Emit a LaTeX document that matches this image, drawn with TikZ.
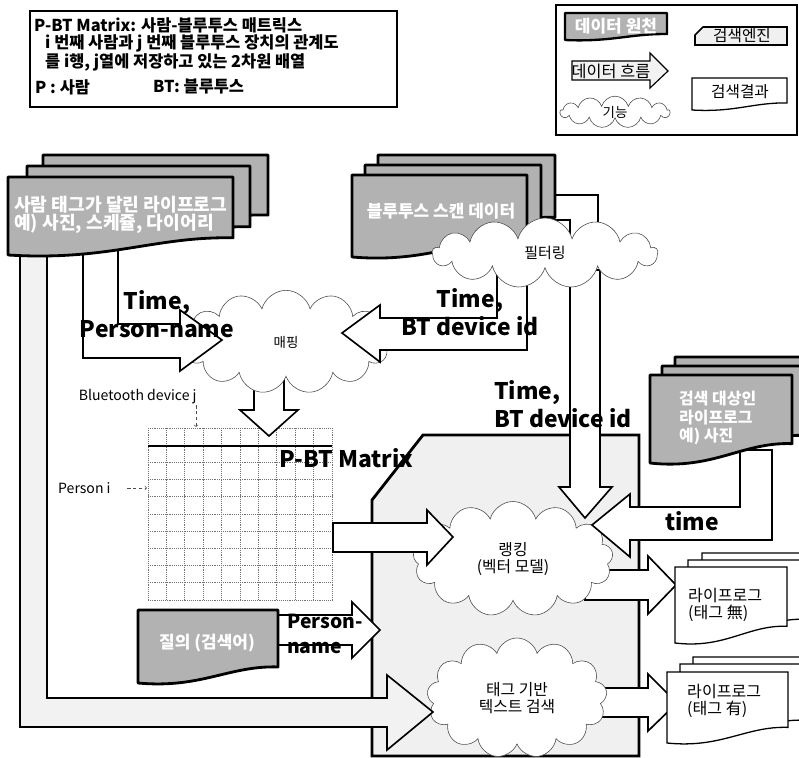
\documentclass[tikz,border=0pt]{standalone}
\usepackage{fontspec}
\setmainfont{Noto Sans CJK KR}
\usepackage{tikz}
\usetikzlibrary{shapes.symbols}

% document outline with wavy bottom: x1, y1, x2, y2 (y grows downwards)
\newcommand{\docpath}[4]{(#1,#2) -- (#3,#2) -- (#3,{#4-0.22*(#4-#2)}) .. controls ({#3-0.35*(#3-#1)},{#4-0.24*(#4-#2)}) and ({#1+0.45*(#3-#1)},{#4+0.08*(#4-#2)}) .. (#1,#4) -- cycle}

\begin{document}
\begin{tikzpicture}[
        x=0.03cm, y=-0.03cm,
        srcdoc/.style={draw=black, line width=2.4pt, fill=gray!60, line join=round},
        resdoc/.style={draw=black, line width=1.1pt, fill=white},
        flow/.style={draw=black, line width=1.4pt, fill=white, line join=miter},
        lightflow/.style={flow, fill=gray!10},
        engine/.style={draw=black, line width=2.4pt, fill=gray!12},
        func/.style={cloud, cloud puffs=13, cloud ignores aspect, draw=black!70, line width=0.5pt, fill=white, inner sep=0pt, align=center, font=\fontsize{13.5}{15}\selectfont},
        srctext/.style={text=white, align=left, inner sep=0pt, font=\bfseries\fontsize{14.5}{15.5}\selectfont},
        restext/.style={align=left, anchor=west, inner sep=0pt, font=\fontsize{13.7}{14.5}\selectfont},
        biglab/.style={align=center, inner sep=0pt, font=\bfseries\fontsize{19.5}{24}\selectfont},
        smalllab/.style={inner sep=1pt, font=\fontsize{12}{14}\selectfont},
        legendbox/.style={draw=black, line width=1.4pt},
        legtext/.style={anchor=west, inner sep=0pt, font=\bfseries\fontsize{14}{16}\selectfont},
        gridline/.style={black!55, densely dotted, line width=0.6pt},
        pointer/.style={->, densely dashed, black!70, line width=0.5pt}
      ]
      \useasboundingbox (0,0) rectangle (799,758);

      % Legend (left) - P-BT Matrix
      \draw[legendbox] (30,11) rectangle (397,107);
      \node[legtext] (lgtitle) at (34,25) {P-BT Matrix: 사람-블루투스 매트릭스};
      \node[legtext] (lgline2) at (45,43) {i 번째 사람과 j 번째 블루투스 장치의 관계도};
      \node[legtext] (lgline3) at (45,62) {를 i행, j열에 저장하고 있는 2차원 배열};
      \node[legtext] (lgp) at (35,87) {P : 사람};
      \node[legtext] (lgbt) at (153,87) {BT: 블루투스};

      % Legend (right) - shapes
      \draw[legendbox] (556,5) rectangle (797,135);
      \draw[srcdoc, line width=2pt] \docpath{565}{13}{667}{40};
      \node[srctext, font=\bfseries\fontsize{14.5}{15}\selectfont] (lgsrc) at (616,26) {데이터 원천};
      \draw[engine, line width=1.4pt] (695,35) -- (703,27) -- (787,27) -- (787,45) -- (695,45) -- cycle;
      \node[font=\fontsize{13.4}{15}\selectfont, inner sep=0pt] (lgeng) at (742,36) {검색엔진};
      \draw[lightflow, line width=1pt] (572,61) -- (650,61) -- (650,53) -- (668,71) -- (650,88) -- (650,80) -- (572,80) -- cycle;
      \node[font=\fontsize{13.9}{15}\selectfont, inner sep=0pt] (lgflow) at (611,71) {데이터 흐름};
      \draw[resdoc] \docpath{692}{78}{787}{110};
      \node[font=\fontsize{13.4}{15}\selectfont, inner sep=0pt] (lgres) at (740,92) {검색결과};
      \node[func, minimum width=3.3cm, minimum height=0.95cm, font=\fontsize{11.5}{12}\selectfont] (lgfunc) at (615,112) {기능};

      % Search engine region
      \draw[engine] (372,500) -- (423,435) -- (639,435) -- (639,756) -- (372,756) -- cycle;

      % P-BT Matrix grid
      \foreach \i in {0,...,10} {
        \draw[gridline] ({148+18.4*\i},428) -- ({148+18.4*\i},600);
        \draw[gridline] (148,{428+17.2*\i}) -- (332,{428+17.2*\i});
      }
      \draw[line width=2.4pt] (148,446) -- (332,446);
      \node[biglab, anchor=west] (matrix) at (279,458) {P-BT Matrix};
      \node[smalllab, anchor=south east] (btdevj) at (198,405) {Bluetooth device j};
      \coordinate (colj) at (196,427);
      \draw[pointer] (btdevj.south east) ++(-2,0) -- (colj);
      \node[smalllab, anchor=east] (personi) at (112,488) {Person i};
      \coordinate (rowi) at (147,488);
      \draw[pointer, shorten <=0.45cm] (personi.east) -- (rowi);

      % Arrows that start under the clouds
      \draw[flow] (254,370) -- (254,410) -- (240,410) -- (269,436) -- (298,410) -- (284,410) -- (284,370) -- cycle;
      \draw[flow] (585,570) -- (648,570) -- (648,556) -- (676,585) -- (648,614) -- (648,600) -- (585,600) -- cycle;
      \draw[flow] (585,688) -- (648,688) -- (648,674) -- (677,703) -- (648,731) -- (648,717) -- (585,717) -- cycle;

      % Functions
      \node[func, minimum width=6.24cm, minimum height=3.1cm, font=\fontsize{11.5}{13}\selectfont] (mapping) at (286,342) {매핑};
      \node[func, minimum width=6.0cm, minimum height=3.45cm] (ranking) at (513,559) {랭킹\\(벡터 모델)};
      \node[func, minimum width=5.4cm, minimum height=3.6cm] (tagsearch) at (517,698) {태그 기반\\텍스트 검색};

      % Arrows out of filtering
      \draw[flow] (497,270) -- (497,318) -- (380,318) -- (380,305) -- (342,333) -- (380,362) -- (380,350) -- (527,350) -- (527,270) -- cycle;
      \draw[flow] (570,270) -- (570,487) -- (559,487) -- (585,518) -- (612,487) -- (600,487) -- (600,270) -- cycle;
      \draw[flow] (545,195) -- (598,195) -- (598,250) -- (570,250) -- (570,220) -- (545,220) -- cycle;

      % Bluetooth scan data + filtering
      \draw[srcdoc] \docpath{378}{155}{555}{235};
      \draw[srcdoc] \docpath{365}{165}{541}{246};
      \draw[srcdoc] \docpath{352}{175}{527}{257};
      \node[srctext] (btscan) at (441,211) {블루투스 스캔 데이터};
      \node[func, minimum width=6.75cm, minimum height=2.1cm, font=\fontsize{12.8}{14}\selectfont] (filtering) at (545,253) {필터링};

      % Remaining data flows
      \draw[lightflow] (20,240) -- (20,727) -- (387,727) -- (387,750) -- (433,712) -- (387,675) -- (387,698) -- (47,698) -- (47,240) -- cycle;
      \draw[flow] (83,240) -- (83,358) -- (180,358) -- (180,371) -- (222,340) -- (180,310) -- (180,324) -- (118,324) -- (118,240) -- cycle;
      \draw[flow] (333,523) -- (427,523) -- (427,510) -- (453,537) -- (427,565) -- (427,552) -- (333,552) -- cycle;
      \draw[flow] (270,615) -- (352,615) -- (352,602) -- (380,630) -- (352,658) -- (352,645) -- (270,645) -- cycle;
      \draw[flow] (740,450) -- (740,507) -- (630,507) -- (630,494) -- (592,525) -- (630,557) -- (630,540) -- (772,540) -- (772,450) -- cycle;

      % Lifelog with person tags
      \draw[srcdoc] \docpath{43}{155}{268}{232};
      \draw[srcdoc] \docpath{27}{166}{250}{244};
      \draw[srcdoc] \docpath{8}{177}{233}{255};
      \node[srctext, anchor=west, font=\bfseries\fontsize{15.5}{16}\selectfont] (taglog) at (14,215) {사람 태그가 달린 라이프로그\\예) 사진, 스케쥴, 다이어리};

      % Lifelog to search
      \draw[srcdoc] \docpath{675}{357}{815}{447};
      \draw[srcdoc] \docpath{662}{366}{805}{455};
      \draw[srcdoc] \docpath{650}{375}{792}{463};
      \node[srctext, anchor=west, font=\bfseries\fontsize{13.6}{15.8}\selectfont] (target) at (679,418) {검색 대상인\\라이프로그\\예) 사진};

      % Query
      \draw[srcdoc] \docpath{138}{610}{278}{683};
      \node[srctext] (query) at (207,643) {질의 (검색어)};

      % Results
      \draw[resdoc] \docpath{702}{553}{815}{629};
      \draw[resdoc] \docpath{688}{560}{805}{636};
      \draw[resdoc] \docpath{675}{567}{787}{643};
      \node[restext] (resnotag) at (688,605) {라이프로그\\(태그 無)};
      \draw[resdoc] \docpath{693}{657}{815}{729};
      \draw[resdoc] \docpath{680}{664}{805}{736};
      \draw[resdoc] \docpath{667}{672}{788}{743};
      \node[restext] (restag) at (687,701) {라이프로그\\(태그 有)};

      % Flow labels
      \node[biglab] (lbpname) at (157,314) {Time,\\Person-name};
      \node[biglab] (lbbtmap) at (470,312) {Time,\\BT device id};
      \node[biglab, anchor=west, align=left] (lbbtrank) at (494,404) {Time,\\BT device id};
      \node[biglab] (lbtime) at (692,521) {time};
      \node[biglab, anchor=west, align=left, font=\bfseries\fontsize{16.5}{21}\selectfont] (lbquery) at (287,634) {Person-\\name};

    \end{tikzpicture}
\end{document}
